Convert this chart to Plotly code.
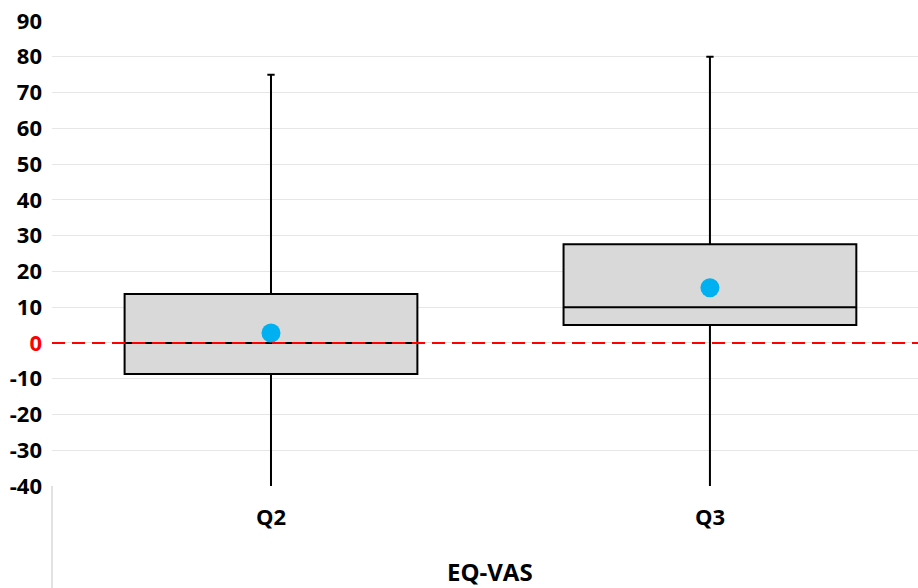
import plotly.graph_objects as go

# Box summary statistics per question (EQ-VAS change)
categories = ["Q2", "Q3"]
q1_vals = [-8.7, 5.0]
median_vals = [0.0, 10.0]
q3_vals = [13.7, 27.6]
lower_vals = [-45.0, -45.0]
upper_vals = [75.0, 80.0]
mean_vals = [2.8, 15.4]

y_ticks = list(range(-40, 100, 10))
y_ticktext = ["<span style='color:#FF0000'>0</span>" if v == 0 else str(v) for v in y_ticks]

FONT = "Open Sans"
TICK_SIZE = 22

fig = go.Figure()

fig.add_trace(go.Box(
    x=categories,
    q1=q1_vals,
    median=median_vals,
    q3=q3_vals,
    lowerfence=lower_vals,
    upperfence=upper_vals,
    width=0.667,
    fillcolor="#D9D9D9",
    line=dict(color="#000000", width=2),
    whiskerwidth=0.025,
    boxpoints=False,
    hoverinfo="skip",
    showlegend=False,
))

fig.add_trace(go.Scatter(
    x=categories,
    y=mean_vals,
    mode="markers",
    marker=dict(color="#00B0F0", size=19),
    showlegend=False,
    hoverinfo="skip",
))

# Reference line at zero
fig.add_shape(type="line", xref="paper", yref="y", x0=0, x1=1, y0=0, y1=0,
              line=dict(color="#FF0000", width=2, dash="13px,7px"), layer="above")

# Divider below the category axis
fig.add_shape(type="line", xref="paper", yref="paper", x0=0, x1=0, y0=0, y1=-0.23,
              line=dict(color="#D9D9D9", width=1.5), layer="above")

fig.add_annotation(text="<b>EQ-VAS</b>", x=0.5, xref="x", y=-0.184, yref="paper",
                   showarrow=False, font=dict(family=FONT, size=24, color="#000000"),
                   yanchor="middle")

fig.update_layout(
    width=918, height=588,
    margin=dict(l=52, r=0, t=21, b=102),
    paper_bgcolor="white",
    plot_bgcolor="white",
    font=dict(family=FONT, size=TICK_SIZE, color="#000000"),
)

fig.update_xaxes(
    type="category",
    range=[-0.4989, 1.474],
    showgrid=False,
    zeroline=False,
    showline=False,
    ticks="",
    tickfont=dict(family=FONT, size=TICK_SIZE, color="#000000", weight="bold"),
    ticklabelstandoff=16,
)

fig.update_yaxes(
    range=[-40, 90],
    tickvals=y_ticks,
    ticktext=y_ticktext,
    showgrid=True,
    gridcolor="#E6E6E6",
    gridwidth=1,
    zeroline=False,
    showline=False,
    ticks="",
    tickfont=dict(family=FONT, size=TICK_SIZE, color="#000000", weight="bold"),
    ticklabelstandoff=9,
)

fig.write_html("out.html")
